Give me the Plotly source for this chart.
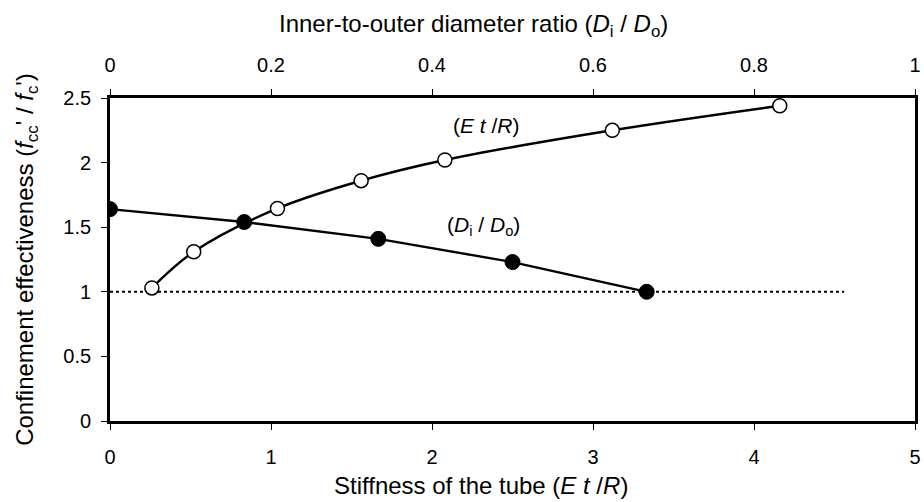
import plotly.graph_objects as go

# Stiffness series (bottom axis, E t / R)
stiff_x = [0.26, 0.52, 1.04, 1.56, 2.08, 3.12, 4.16]
stiff_y = [1.03, 1.31, 1.645, 1.86, 2.02, 2.25, 2.44]

# Diameter ratio series (top axis, Di / Do)
ratio_x = [0.0, 0.1667, 0.3333, 0.5, 0.6667]
ratio_y = [1.64, 1.54, 1.41, 1.23, 1.0]

# Reference line (unconfined, effectiveness = 1)
ref_x = [0.0, 4.56]
ref_y = [1.0, 1.0]

x_ticks = [0, 1, 2, 3, 4, 5]
x2_ticks = [0, 0.2, 0.4, 0.6, 0.8, 1]
y_ticks = [0, 0.5, 1, 1.5, 2, 2.5]

FONT = "Liberation Sans, Arial, sans-serif"
TICK = 20
TITLE = 24

fig = go.Figure()

fig.add_trace(go.Scatter(
    x=ref_x, y=ref_y, mode="lines",
    line=dict(color="black", width=2, dash="dot"),
    hoverinfo="skip", showlegend=False,
))

fig.add_trace(go.Scatter(
    x=stiff_x, y=stiff_y, mode="lines+markers",
    line=dict(color="black", width=2.4, shape="spline", smoothing=1.0),
    marker=dict(symbol="circle", size=14, color="white",
                line=dict(color="black", width=1.5)),
    showlegend=False,
))

fig.add_trace(go.Scatter(
    x=ratio_x, y=ratio_y, mode="lines+markers", xaxis="x2",
    line=dict(color="black", width=2.4),
    marker=dict(symbol="circle", size=15, color="black",
                line=dict(color="black", width=1)),
    showlegend=False,
))

axis_common = dict(
    showline=True, linecolor="black", linewidth=2.8,
    showgrid=False, zeroline=False,
    ticks="outside", ticklen=6, tickwidth=1, tickcolor="black",
    tickfont=dict(family=FONT, size=TICK, color="black"),
)

fig.update_layout(
    width=924, height=502,
    margin=dict(l=110, r=3, t=98, b=81),
    paper_bgcolor="white", plot_bgcolor="white",
    font=dict(family=FONT, color="black"),
    xaxis=dict(
        **axis_common,
        range=[0, 5], tickvals=x_ticks,
        ticktext=[str(v) for v in x_ticks],
        ticklabelstandoff=10,
    ),
    xaxis2=dict(
        **axis_common,
        range=[0, 1], tickvals=x2_ticks,
        ticktext=[("%g" % v) for v in x2_ticks],
        overlaying="x", side="top",
        ticklabelstandoff=9,
    ),
    yaxis=dict(
        **axis_common,
        range=[0, 2.5], tickvals=y_ticks,
        ticktext=[("%g" % v) for v in y_ticks],
        mirror=True,
        ticklabelstandoff=6,
        title=dict(text="Confinement effectiveness (<i>f</i><sub>cc</sub>' / <i>f</i><sub>c</sub>')",
                   font=dict(family=FONT, size=TITLE), standoff=23),
    ),
    annotations=[
        dict(x=0.461, y=-0.201, xref="paper", yref="paper", showarrow=False,
             xanchor="center", yanchor="middle",
             text="Stiffness of the tube (<i>E t</i> /<i>R</i>)",
             font=dict(family=FONT, size=TITLE, color="black")),
        dict(x=0.451, y=1.226, xref="paper", yref="paper", showarrow=False,
             xanchor="center", yanchor="middle",
             text="Inner-to-outer diameter ratio (<i>D</i><sub>i</sub> / <i>D</i><sub>o</sub>)",
             font=dict(family=FONT, size=TITLE, color="black")),
        dict(x=2.34, y=2.29, xref="x", yref="y", showarrow=False,
             text="(<i>E t</i> /<i>R</i>)",
             font=dict(family=FONT, size=21, color="black")),
        dict(x=2.32, y=1.51, xref="x", yref="y", showarrow=False,
             text="(<i>D</i><sub>i</sub> / <i>D</i><sub>o</sub>)",
             font=dict(family=FONT, size=21, color="black")),
    ],
)

fig.write_html("out.html")
